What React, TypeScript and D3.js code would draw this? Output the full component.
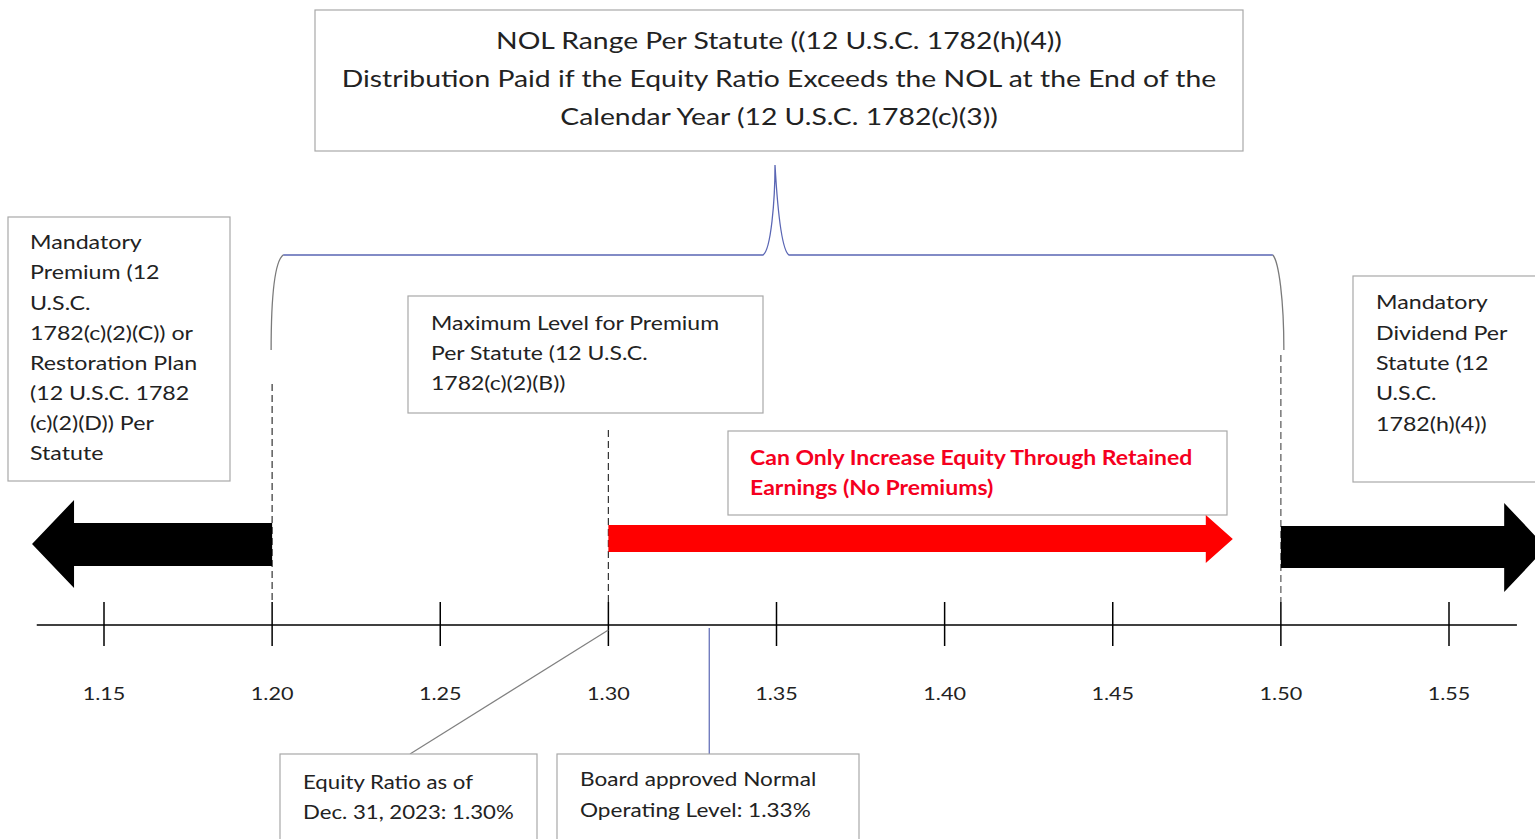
import React from "react";
import * as d3 from "d3";

const tickValues = [1.15, 1.2, 1.25, 1.3, 1.35, 1.4, 1.45, 1.5, 1.55];
const tickLabels = ["1.15", "1.20", "1.25", "1.30", "1.35", "1.40", "1.45", "1.50", "1.55"];
const lowerNOL = 1.2;
const upperNOL = 1.5;
const maxPremiumLevel = 1.3;
const equityRatio = 1.3;
const normalOperatingLevel = 1.33;
const leftArrowRange = [1.2, 1.1286];
const redArrowRange = [1.3, 1.4857];
const rightArrowRange = [1.5, 1.5789];
const axisRange = [1.13, 1.5702];

const topText = [
  "NOL Range Per Statute ((12 U.S.C. 1782(h)(4))",
  "Distribution Paid if the Equity Ratio Exceeds the NOL at the End of the",
  "Calendar Year (12 U.S.C. 1782(c)(3))",
];
const leftText = [
  "Mandatory",
  "Premium (12",
  "U.S.C.",
  "1782(c)(2)(C)) or",
  "Restoration Plan",
  "(12 U.S.C. 1782",
  "(c)(2)(D)) Per",
  "Statute",
];
const maxText = ["Maximum Level for Premium", "Per Statute (12 U.S.C.", "1782(c)(2)(B))"];
const redText = ["Can Only Increase Equity Through Retained", "Earnings (No Premiums)"];
const rightText = ["Mandatory", "Dividend Per", "Statute (12", "U.S.C.", "1782(h)(4))"];
const equityText = ["Equity Ratio as of", "Dec. 31, 2023: 1.30%"];
const nolText = ["Board approved Normal", "Operating Level: 1.33%"];

const FONT = "Lato, 'Open Sans', sans-serif";

function Box({ x, y, w, h, lines, tx, ty, lh, size, sx = 1.15, anchor = "start", fill = "#222", weight = 400 }: any) {
  return (
    <g>
      <rect x={x} y={y} width={w} height={h} fill="#fff" stroke="#a8a8a8" strokeWidth={1.2} />
      {lines.map((l: string, i: number) => (
        <text
          key={i}
          transform={`translate(${tx},${ty + i * lh}) scale(${sx},1)`}
          fontSize={size}
          fontFamily={FONT}
          fill={fill}
          fontWeight={weight}
          textAnchor={anchor}
          dominantBaseline="central"
        >
          {l}
        </text>
      ))}
    </g>
  );
}

export default function App() {
  const W = 1535;
  const H = 839;
  const x = d3.scaleLinear().domain([1.15, 1.55]).range([104, 1449]);
  const axisY = 625;

  const arrowPath = (from: number, to: number, shaftTop: number, shaftBot: number, headTop: number, headBot: number, headLen: number) => {
    const x0 = x(from);
    const x1 = x(to);
    const dir = x1 > x0 ? 1 : -1;
    const xb = x1 - dir * headLen;
    const mid = (headTop + headBot) / 2;
    const p = d3.path();
    p.moveTo(x0, shaftTop);
    p.lineTo(xb, shaftTop);
    p.lineTo(xb, headTop);
    p.lineTo(x1, mid);
    p.lineTo(xb, headBot);
    p.lineTo(xb, shaftBot);
    p.lineTo(x0, shaftBot);
    p.closePath();
    return p.toString();
  };

  const bl = x(lowerNOL);
  const br = x(upperNOL);
  const bc = 776;
  const braceY = 255;
  const leftEnd = d3.path();
  leftEnd.moveTo(bl - 1, 350);
  leftEnd.bezierCurveTo(bl - 1, 300, bl + 2, 262, bl + 11, braceY);
  const rightEnd = d3.path();
  rightEnd.moveTo(br + 3, 350);
  rightEnd.bezierCurveTo(br + 3, 300, br - 2, 262, br - 8, braceY);
  const mid = d3.path();
  mid.moveTo(bl + 11, braceY);
  mid.lineTo(bc - 13, braceY);
  mid.bezierCurveTo(bc - 5, braceY - 5, bc - 1, 200, bc - 1, 165);
  mid.bezierCurveTo(bc + 1, 200, bc + 5, braceY - 5, bc + 13, braceY);
  mid.lineTo(br - 8, braceY);

  return (
    <svg
      width={W}
      height={H}
      style={{ position: "absolute", left: 0, top: 0, background: "#fff" }}
      viewBox={`0 0 ${W} ${H}`}
    >
      <rect width={W} height={H} fill="#fff" />

      <Box x={315} y={10} w={928} h={141} lines={topText} tx={779} ty={40} lh={38} size={24} sx={1.18} anchor="middle" />

      <path d={mid.toString()} fill="none" stroke="#5a66b4" strokeWidth={1.3} />
      <path d={leftEnd.toString()} fill="none" stroke="#7a7a7a" strokeWidth={1.3} />
      <path d={rightEnd.toString()} fill="none" stroke="#7a7a7a" strokeWidth={1.3} />

      <line x1={x(lowerNOL)} x2={x(lowerNOL)} y1={384} y2={602} stroke="#333" strokeWidth={1.2} strokeDasharray="7 4" />
      <line x1={x(maxPremiumLevel)} x2={x(maxPremiumLevel)} y1={430} y2={602} stroke="#333" strokeWidth={1.2} strokeDasharray="7 4" />
      <line x1={x(upperNOL)} x2={x(upperNOL)} y1={355} y2={602} stroke="#555" strokeWidth={1.2} strokeDasharray="7 4" />

      <Box x={8} y={217} w={222} h={264} lines={leftText} tx={30} ty={242} lh={30.1} size={20} sx={1.16} />
      <Box x={408} y={296} w={355} h={117} lines={maxText} tx={431} ty={323} lh={30} size={20} sx={1.15} />
      <Box x={1353} y={276} w={190} h={206} lines={rightText} tx={1376} ty={302} lh={30.3} size={20} sx={1.16} />
      <Box x={728} y={431} w={499} h={84} lines={redText} tx={750} ty={458} lh={30} size={20} sx={1.15} fill="#f5001e" weight={700} />

      <path d={arrowPath(leftArrowRange[0], leftArrowRange[1], 523, 566, 500, 588, 42)} fill="#000" />
      <path d={arrowPath(redArrowRange[0], redArrowRange[1], 525, 552, 515, 563, 27)} fill="#ff0000" />
      <path d={arrowPath(rightArrowRange[0], rightArrowRange[1], 526, 568, 503, 592, 42)} fill="#000" />

      <line x1={x(axisRange[0])} x2={x(axisRange[1])} y1={axisY} y2={axisY} stroke="#000" strokeWidth={1.5} />
      {tickValues.map((v, i) => (
        <g key={i}>
          <line x1={x(v)} x2={x(v)} y1={602} y2={646} stroke="#000" strokeWidth={1.5} />
          <text
            transform={`translate(${x(v)},693) scale(1.2,1)`}
            fontSize={18}
            fontFamily={FONT}
            fill="#222"
            textAnchor="middle"
            dominantBaseline="central"
          >
            {tickLabels[i]}
          </text>
        </g>
      ))}

      <line x1={x(equityRatio)} x2={410} y1={630} y2={754} stroke="#808080" strokeWidth={1.2} />
      <line x1={x(normalOperatingLevel)} x2={x(normalOperatingLevel)} y1={628} y2={754} stroke="#5a66b4" strokeWidth={1.2} />

      <Box x={280} y={754} w={257} h={100} lines={equityText} tx={303} ty={781} lh={30} size={20} sx={1.11} />
      <Box x={557} y={754} w={302} h={100} lines={nolText} tx={580} ty={779} lh={31} size={20} sx={1.13} />
    </svg>
  );
}
